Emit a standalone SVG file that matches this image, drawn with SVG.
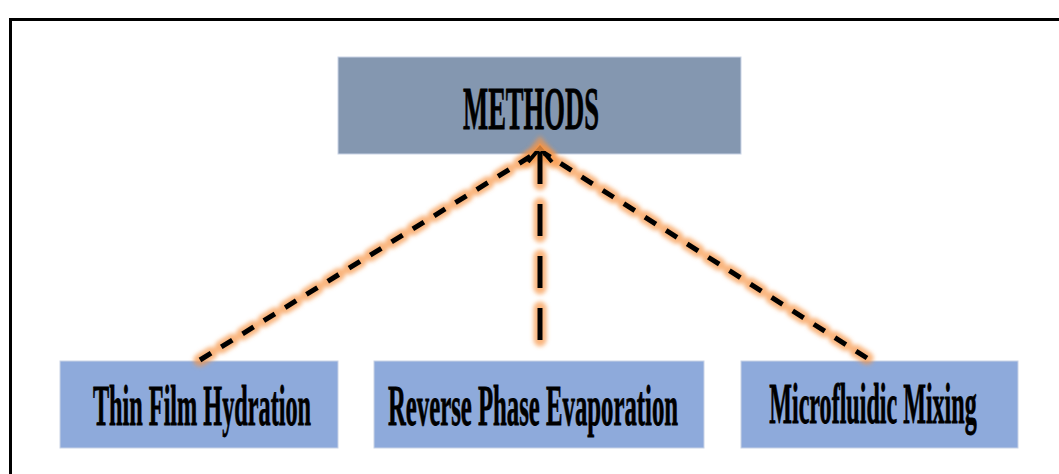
<svg xmlns="http://www.w3.org/2000/svg" width="1059" height="474" viewBox="0 0 1059 474">
<defs>
<style>
.box{stroke:#c9d3e6;stroke-width:1}
.top{fill:#8497b0}
.sub{fill:#8eaadb}
.lbl{font-family:"Liberation Serif","Times New Roman",serif;font-weight:bold;fill:#000;stroke:#000;stroke-width:0.8;text-anchor:middle}
.glow{stroke:#f79646;stroke-opacity:0.7;stroke-width:13;fill:none;stroke-linecap:round;filter:url(#blur)}
.dash{stroke:#000;stroke-width:5;fill:none}
</style>
<filter id="blur" filterUnits="userSpaceOnUse" x="0" y="0" width="1059" height="474"><feGaussianBlur stdDeviation="2"/></filter>
</defs>
<rect width="1059" height="474" fill="#fff"/>
<path d="M10.5,474 V19.5 H1059" fill="none" stroke="#000" stroke-width="3"/>
<g id="methods">
<rect class="box top" x="338" y="57" width="403" height="97"/>
<text class="lbl" transform="translate(531,129) scale(0.429,1)" font-size="62">METHODS</text>
</g>
<g id="thin-film">
<rect class="box sub" x="60" y="361" width="278" height="87"/>
<text class="lbl" transform="translate(202,425) scale(0.418,1)" font-size="58">Thin Film Hydration</text>
</g>
<g id="reverse-phase">
<rect class="box sub" x="374" y="361" width="330" height="87"/>
<text class="lbl" transform="translate(533,425) scale(0.427,1)" font-size="58">Reverse Phase Evaporation</text>
</g>
<g id="microfluidic">
<rect class="box sub" x="741" y="361" width="277" height="87"/>
<text class="lbl" transform="translate(873,423) scale(0.415,1)" font-size="58">Microfluidic Mixing</text>
</g>
<g id="connectors">
<line class="glow" x1="200" y1="360" x2="536" y2="153" stroke-dasharray="13 12"/>
<line class="glow" x1="540" y1="340" x2="540" y2="150" stroke-dasharray="32 20" stroke-width="10"/>
<line class="glow" x1="867" y1="358" x2="544" y2="153" stroke-dasharray="13 12"/>
<path class="glow" d="M527,162 L540,146 L553,162"/>
<line class="dash" x1="200" y1="360" x2="536" y2="153" stroke-dasharray="13 12"/>
<line class="dash" x1="540" y1="340" x2="540" y2="150" stroke-dasharray="32 20" stroke-width="3"/>
<line class="dash" x1="867" y1="358" x2="544" y2="153" stroke-dasharray="13 12"/>
<path d="M528,162 L540,148 L552,162" fill="none" stroke="#000" stroke-width="4"/>
<path d="M540,143 L534,151 L546,151 Z" fill="#f79646" fill-opacity="0.8"/>
</g>
</svg>
